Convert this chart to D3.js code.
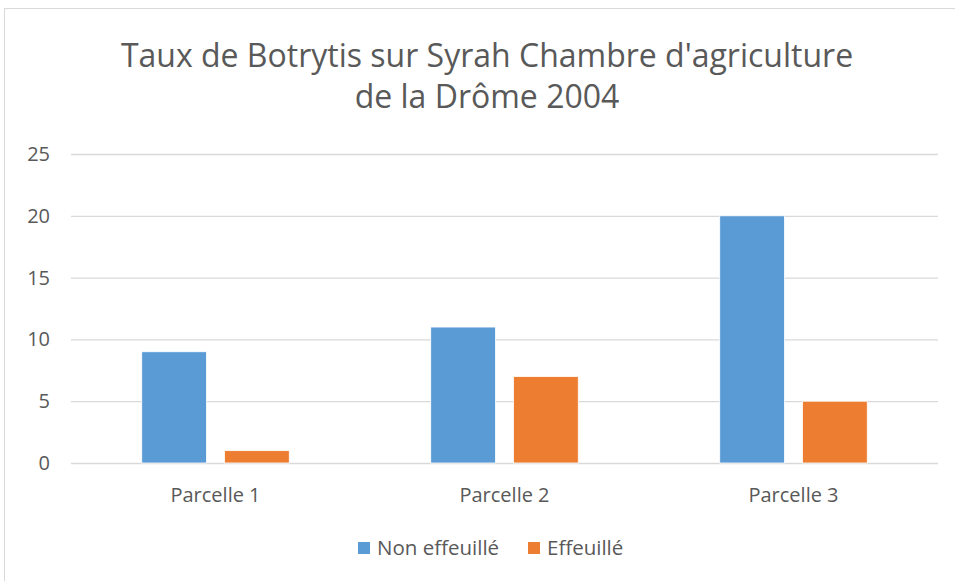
<!DOCTYPE html>
<html lang="fr">
<head>
<meta charset="UTF-8">
<title>Taux de Botrytis</title>
<script src="https://cdn.jsdelivr.net/npm/d3@7"></script>
<style>
  body { margin: 0; background: #fff; }
  text { font-family: "Open Sans", "Noto Sans", sans-serif; fill: #595959; }
</style>
</head>
<body>
<script>
// data
var categories = ["Parcelle 1", "Parcelle 2", "Parcelle 3"];
var seriesNames = ["Non effeuillé", "Effeuillé"];
var nonEffeuille = [9, 11, 20];
var effeuille = [1, 7, 5];
var yTicks = [0, 5, 10, 15, 20, 25];
var colors = ["#5B9BD5", "#ED7D31"];

var W = 955, H = 581;
var margin = {top: 154, left: 71, right: 17, bottom: 118};

var svg = d3.select("body").append("svg")
    .attr("width", W)
    .attr("height", H);

// chart area border (runs past the right/bottom of the picture)
svg.append("rect")
    .attr("x", 4.5).attr("y", 8.5)
    .attr("width", 1000).attr("height", 1000)
    .attr("fill", "#fff")
    .attr("stroke", "#d9d9d9");

var x0 = d3.scaleBand()
    .domain(categories)
    .range([margin.left, W - margin.right]);

var x1 = d3.scaleBand()
    .domain(seriesNames)
    .range([0, x0.bandwidth()])
    .paddingInner(0.217)
    .paddingOuter(0.855);

var y = d3.scaleLinear()
    .domain([0, 25])
    .range([H - margin.bottom, margin.top]);

// gridlines
var grid = d3.axisLeft(y)
    .tickValues(yTicks)
    .tickSize(-(W - margin.right - margin.left))
    .tickFormat("");

svg.append("g")
    .attr("transform", "translate(" + margin.left + ",0)")
    .call(grid)
    .call(function (g) {
        g.select(".domain").remove();
        g.selectAll("line").attr("stroke", "#d9d9d9").attr("stroke-width", 1.3);
    });

// y labels
var yAxis = d3.axisLeft(y)
    .tickValues(yTicks)
    .tickSize(0)
    .tickPadding(21);

svg.append("g")
    .attr("transform", "translate(" + margin.left + ",0)")
    .call(yAxis)
    .call(function (g) {
        g.select(".domain").remove();
        g.selectAll("text")
            .attr("font-family", null)
            .attr("font-size", 20)
            .attr("fill", "#595959");
    });

// x labels
var xAxis = d3.axisBottom(x0).tickSize(0).tickPadding(25);

svg.append("g")
    .attr("transform", "translate(0," + (H - margin.bottom) + ")")
    .call(xAxis)
    .call(function (g) {
        g.select(".domain").remove();
        g.selectAll("text")
            .attr("font-family", null)
            .attr("font-size", 20)
            .attr("fill", "#595959");
    });

// bars
var rows = categories.map(function (c, i) {
    return {key: c, values: [nonEffeuille[i], effeuille[i]]};
});

var groups = svg.selectAll(".grp")
    .data(rows)
    .enter().append("g")
    .attr("class", "grp")
    .attr("transform", function (d) { return "translate(" + x0(d.key) + ",0)"; });

groups.selectAll("rect")
    .data(function (d) {
        return d.values.map(function (v, j) { return {s: seriesNames[j], v: v, j: j}; });
    })
    .enter().append("rect")
    .attr("x", function (d) { return x1(d.s); })
    .attr("y", function (d) { return y(d.v); })
    .attr("width", x1.bandwidth())
    .attr("height", function (d) { return y(0) - y(d.v); })
    .attr("fill", function (d) { return colors[d.j]; })
    .attr("stroke", "#fff")
    .attr("stroke-width", 0.8);

// title
var title = svg.append("text")
    .attr("text-anchor", "middle")
    .attr("font-size", 32)
    .attr("fill", "#595959");
title.append("tspan").attr("x", 487).attr("y", 67).text("Taux de Botrytis sur Syrah Chambre d'agriculture");
title.append("tspan").attr("x", 487).attr("y", 108).text("de la Drôme 2004");

// legend
var legendX = [358, 528];
var legend = svg.selectAll(".leg")
    .data(seriesNames)
    .enter().append("g")
    .attr("class", "leg")
    .attr("transform", function (d, i) { return "translate(" + legendX[i] + ",542)"; });

legend.append("rect")
    .attr("width", 12).attr("height", 12)
    .attr("fill", function (d, i) { return colors[i]; });

legend.append("text")
    .attr("x", 19).attr("y", 12.5)
    .attr("font-size", 20.5)
    .text(function (d) { return d; });
</script>
</body>
</html>
